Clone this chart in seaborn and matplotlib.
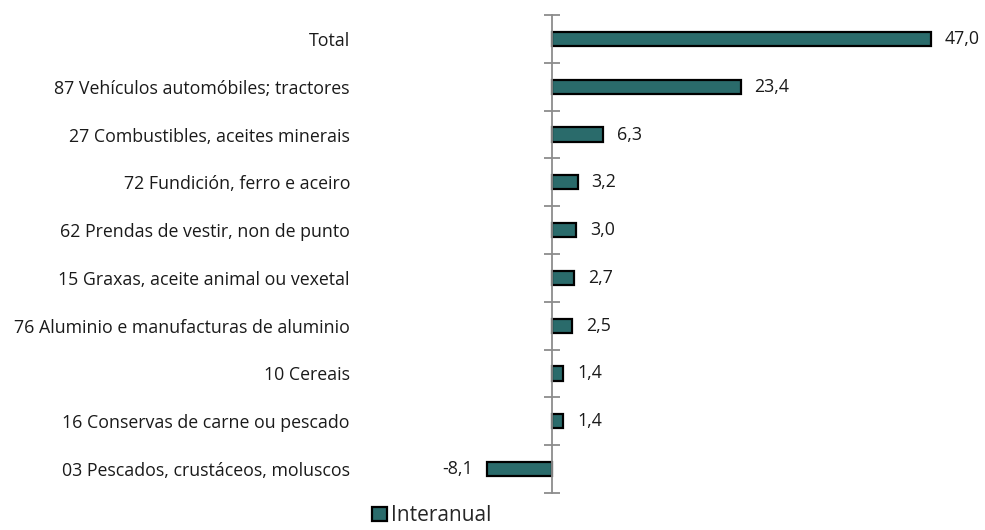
import matplotlib
matplotlib.use("Agg")
import matplotlib.pyplot as plt
from matplotlib.patches import Patch
import numpy as np
import seaborn as sns

categories = [
    "Total",
    "87 Vehículos automóbiles; tractores",
    "27 Combustibles, aceites minerais",
    "72 Fundición, ferro e aceiro",
    "62 Prendas de vestir, non de punto",
    "15 Graxas, aceite animal ou vexetal",
    "76 Aluminio e manufacturas de aluminio",
    "10 Cereais",
    "16 Conservas de carne ou pescado",
    "03 Pescados, crustáceos, moluscos",
]
values = [47.0, 23.4, 6.3, 3.2, 3.0, 2.7, 2.5, 1.4, 1.4, -8.1]
series_name = "Interanual"

sns.set_style("white")
plt.rcParams["font.family"] = ["Open Sans", "DejaVu Sans"]

bar_color = "#2A6B6B"
axis_gray = "#8C8C8C"
text_color = "#1a1a1a"

fig = plt.figure(figsize=(9.85, 5.3), dpi=100)
# axes spans x 400..960 px, y 15..493 px
ax = fig.add_axes([400 / 985, 1 - 493 / 530, 560 / 985, 478 / 530])

sns.barplot(x=values, y=categories, orient="h", color=bar_color,
            edgecolor="black", linewidth=1.6, width=0.3, saturation=1, ax=ax)

px_per_unit = 8.06
ax.set_xlim(-152 / px_per_unit, 408 / px_per_unit)
ax.set_ylim(len(categories) - 0.5, -0.5)

ax.spines["left"].set_position(("data", 0))
ax.spines["left"].set_color(axis_gray)
ax.spines["left"].set_linewidth(1.3)
for s in ["top", "right", "bottom"]:
    ax.spines[s].set_visible(False)
ax.set_xticks([])
ax.set_xlabel("")
ax.set_ylabel("")

ax.set_yticks(np.arange(-0.5, len(categories), 1), minor=True)
ax.tick_params(axis="y", which="minor", direction="inout", length=11,
               width=1.3, color=axis_gray, left=True)
ax.tick_params(axis="y", which="major", length=0, pad=202 * 0.72,
               labelsize=12.8, labelcolor=text_color)

for i, v in enumerate(values):
    label = f"{v:.1f}".replace(".", ",")
    if v >= 0:
        ax.annotate(label, (v, i), xytext=(10, 0), textcoords="offset points",
                    ha="left", va="center", fontsize=12.8, color=text_color)
    else:
        ax.annotate(label, (v, i), xytext=(-10, 0), textcoords="offset points",
                    ha="right", va="center", fontsize=12.8, color=text_color)

handle = Patch(facecolor=bar_color, edgecolor="black", linewidth=1.6)
fig.legend([handle], [series_name], loc="lower center",
           bbox_to_anchor=(432 / 985, -0.028), frameon=False, fontsize=15,
           handlelength=0.7, handleheight=0.7, handletextpad=0.2)

fig.savefig("out.png", dpi=100)
